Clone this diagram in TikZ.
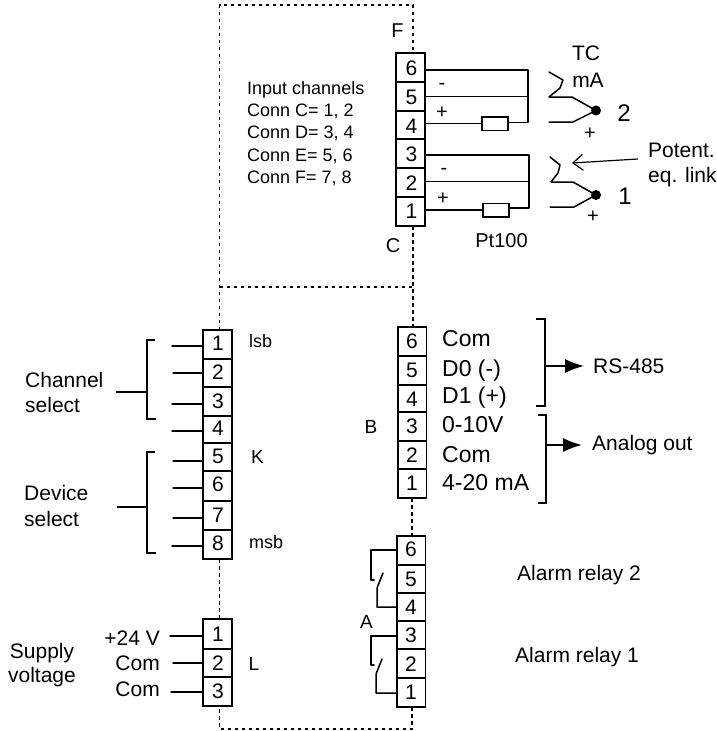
\documentclass[tikz,border=0pt]{standalone}
\usepackage{fontspec}
\setmainfont{Liberation Sans}
\usetikzlibrary{arrows.meta}
\tikzset{
  x=1pt,y=-1pt,
  cell/.style={draw=black,line width=1.5pt,minimum width=29pt,inner sep=0pt,outer sep=0pt,anchor=north west},
  digit/.style={inner sep=0pt,font=\fontsize{21}{21}\selectfont},
  wire/.style={line width=1.5pt,line cap=round,line join=round},
  bus/.style={line width=1.5pt},
  dots/.style={line width=1.7pt,dash pattern=on 3.5pt off 3.5pt},
  res/.style={draw=black,fill=white,line width=1.5pt,minimum width=26pt,minimum height=13.5pt,inner sep=0pt},
  dotnode/.style={circle,fill=black,minimum size=10pt,inner sep=0pt},
  lab/.style={inner sep=0pt,anchor=base,font=\fontsize{21}{21}\selectfont},
  labl/.style={lab,anchor=base west},
  small/.style={labl,font=\fontsize{18}{18}\selectfont},
  mid/.style={inner sep=0pt,anchor=base,font=\fontsize{19}{19}\selectfont},
  sign/.style={inner sep=0pt,font=\fontsize{20}{20}\selectfont},
  big/.style={inner sep=0pt,anchor=base west,font=\fontsize{23}{23}\selectfont},
  chnum/.style={inner sep=0pt,anchor=base,font=\fontsize{24}{24}\selectfont},
  arr/.style={wire,-{Latex[length=19pt,width=14pt]}},
  barb/.style={line width=1.2pt,-{Straight Barb[length=10pt,width=16pt,line width=1.2pt]}}
}
\begin{document}
\begin{tikzpicture}
\useasboundingbox (0,0) rectangle (717,731);
\fill[white] (0,0) rectangle (717,731);
\coordinate (tl) at (219.5,5); \coordinate (tr) at (413,5);
\coordinate (ml) at (219.5,287); \coordinate (mr) at (413,287);
\coordinate (bl) at (219.5,729); \coordinate (br) at (412,729);
% top block C/F
\foreach \n/\y/\h/\yy in {6/53/29/68,5/82/29/97,4/111/28/126,3/139/29/154,2/168/29/183,1/197/29/211}{
  \node[cell,minimum height=\h pt] (t\n) at (396,\y) {};
  \node[digit] at (411.5,\yy) {\n};
}
% K block
\foreach \n/\y/\h/\yy in {1/330/29/343,2/359/28/372,3/387/29/401,4/416/27/428,5/443/28/456,6/471/30/484,7/501/29/515,8/530/29/543}{
  \node[cell,minimum height=\h pt] (k\n) at (203,\y) {};
  \node[digit] at (218,\yy) {\n};
}
% L block
\foreach \n/\y/\h/\yy in {1/619/30/634,2/649/28/663,3/677/29/691}{
  \node[cell,minimum height=\h pt] (l\n) at (203,\y) {};
  \node[digit] at (218,\yy) {\n};
}
% B block
\foreach \n/\y/\h/\yy in {6/327/29/341,5/356/29/370,4/385/27/399,3/412/29/426,2/441/28/455,1/469/29/483}{
  \node[cell,minimum height=\h pt,minimum width=28.5pt] (b\n) at (398,\y) {};
  \node[digit] at (412,\yy) {\n};
}
% A block
\foreach \n/\y/\h/\yy in {6/536/29/549,5/565/28/579,4/593/28/607,3/621/28/635,2/649/29/664,1/678/29/692}{
  \node[cell,minimum height=\h pt,minimum width=28.5pt] (a\n) at (397,\y) {};
  \node[digit] at (411,\yy) {\n};
}
% dotted enclosure
\draw[dots] (219.5,330) -- (tl) -- (tr) -- (413,53);
\draw[dots] (ml) -- (mr);
\draw[dots] (413,226) -- (413,327);
\draw[dots] (412,498) -- (412,536);
\draw[dots] (219.5,559) -- (219.5,619);
\draw[dots] (412,707) -- (br) -- (bl) -- (219.5,706);
% top wiring
\coordinate (jt6) at (528,70); \coordinate (jt5) at (528,96.5); \coordinate (jt4) at (528,122.5);
\node[res] (r2) at (495,123.5) {};
\draw[wire] (t6.east |- jt6) -- (jt6) -- (jt4) -- (r2.east |- jt4);
\draw[wire] (t5.east |- jt5) -- (jt5);
\draw[wire] (t4.east |- r2) -- (r2.west);
\coordinate (jb3) at (529,155); \coordinate (jb2) at (529,181.5); \coordinate (jb1) at (529,208);
\node[res] (r1) at (496,210) {};
\draw[wire] (t3.east |- jb3) -- (jb3) -- (jb1) -- (r1.east |- jb1);
\draw[wire] (t2.east |- jb2) -- (jb2);
\draw[wire] (t1.east |- r1) -- (r1.west);
% thermocouples
\node[dotnode] (d2) at (596,110.5) {};
\node[dotnode] (d1) at (596,195) {};
\draw[wire] (549,72) -- (563,80) -- (560,88) -- (549,97) -- (572,97) -- (d2.center) -- (573,122) -- (549,122);
\draw[wire] (550,157) -- (560,165) -- (558,173) -- (551,182) -- (573,182) -- (d1.center) -- (574,207) -- (550,207);
% potential link arrow
\coordinate (pe) at (572,163);
\coordinate (pes) at (638,159);
\draw[barb] (pes) -- (pe);
\node[labl] (pot) at (648,157) {Potent.};
\node[labl] (eql) at (648,182) {eq. link};
% top labels
\node[mid,font=\fontsize{20}{20}\selectfont] at (397.5,37) {F};
\node[mid,font=\fontsize{20}{20}\selectfont] at (393,252) {C};
\node[lab] at (586,60) {TC};
\node[lab] at (588,87) {mA};
\node[chnum] at (624,121) {2};
\node[chnum] at (625,204) {1};
\node[sign] at (590,134) {+};
\node[sign] at (593,217) {+};
\node[sign] at (442,86) {-};
\node[sign] at (442,113) {+};
\node[sign] at (444,171) {-};
\node[sign] at (443,199) {+};
\node[lab,font=\fontsize{20}{20}\selectfont] at (501.5,247) {Pt100};
\node[small] at (247,94) {Input channels};
\node[small] at (247,116) {Conn C= 1, 2};
\node[small] at (247,138) {Conn D= 3, 4};
\node[small] at (247,161) {Conn E= 5, 6};
\node[small] at (247,183) {Conn F= 7, 8};
% K wiring
\foreach \n/\y/\x in {1/346/172,2/373/173,3/404/172,4/431/172,5/461/173,6/488/173,7/518/173,8/546/172}{
  \draw[wire] (\x,\y) -- (k\n.west |- 0,\y);
}
\draw[bus] (155,340) -- (147,340) -- (147,419) -- (156,419);
\draw[bus] (116,392) -- (147,392);
\draw[bus] (155,452) -- (147,452) -- (147,553) -- (156,553);
\draw[bus] (117,507) -- (147,507);
\node[labl] at (25,387) {Channel};
\node[labl] at (25,412) {select};
\node[labl] at (24,500) {Device};
\node[labl] at (24,526) {select};
\node[small] at (249,347) {lsb};
\node[labl,font=\fontsize{19}{19}\selectfont] at (251,463) {K};
\node[small] at (249,548) {msb};
% L wiring
\node[lab,anchor=base east] (p24) at (160,645) {+24 V};
\node[lab,anchor=base east] (c1) at (160,670) {Com};
\node[lab,anchor=base east] (c2) at (160,696) {Com};
\draw[wire] (170,636) -- (l1.west |- 0,636);
\draw[wire] (173,663) -- (l2.west |- 0,663);
\draw[wire] (171,692) -- (l3.west |- 0,692);
\node[lab] at (42,658) {Supply};
\node[lab] at (42,682) {voltage};
\node[mid] at (254,670) {L};
% B labels
\node[big] at (442,346) {Com};
\node[big] at (442,376) {D0 (-)};
\node[big] at (442,403) {D1 (+)};
\node[big] at (442,432) {0-10V};
\node[big] at (442,462) {Com};
\node[big] at (442,490) {4-20 mA};
\node[mid] at (371,433) {B};
\draw[bus] (536,319) -- (545,319) -- (545,406) -- (536,406);
\draw[bus] (538,415) -- (546,415) -- (546,503) -- (538,503);
\node[labl] (rs) at (593,373) {RS-485};
\node[labl] (an) at (592,450) {Analog out};
\draw[arr] (545,366) -- (584,366);
\draw[arr] (546,445) -- (582,445);
% relays
\draw[wire] (a6.west |- 0,550) -- (371,550) -- (371,580) -- (374,580);
\draw[wire] (383,573) -- (377,588) -- (377,607) -- (a4.west |- 0,607);
\draw[wire] (a3.west |- 0,636) -- (371,636) -- (371,665) -- (374,665);
\draw[wire] (382,659) -- (376,674) -- (376,693) -- (a1.west |- 0,693);
\node[mid] at (366.5,628) {A};
\node[labl] at (517,580) {Alarm relay 2};
\node[labl] at (515,662) {Alarm relay 1};
\end{tikzpicture}
\end{document}
